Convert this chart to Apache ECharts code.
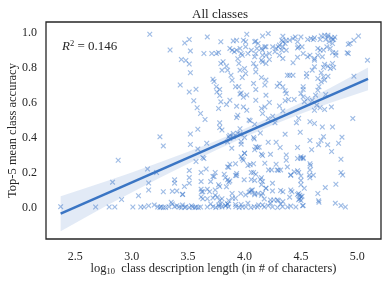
<!DOCTYPE html>
<html><head><meta charset="utf-8">
<script src="https://cdn.jsdelivr.net/npm/echarts@6/dist/echarts.min.js"></script>
<style>html,body{margin:0;padding:0;background:#fff}#c{width:391px;height:284px}</style>
</head><body><div id="c"></div>
<script>
// ---- tick labels ----
const xTickLabels = ['2.5','3.0','3.5','4.0','4.5','5.0'];
const yTickLabels = ['0.0','0.2','0.4','0.6','0.8','1.0'];

// ---- scatter samples [log10 description length, top-5 accuracy] ----
const zeroRow = [
[2.37,0.005],[2.68,0.003],[2.80,0.003],[2.85,0.003],[3.01,0.003],[3.08,0.003],[3.11,0.003],[3.15,0.01],[3.20,0.015],[3.23,0.003],
[3.25,0.0],[3.26,0.005],[3.28,0.0],[3.33,0.005],[3.35,0.03],[3.36,0.02],[3.38,0.005],[3.40,0.01],[3.42,0.003],[3.45,0.015],
[3.47,0.0],[3.48,0.005],[3.51,0.0],[3.53,0.01],[3.54,0.003],[3.56,0.0],[3.57,0.003],[3.59,0.0],[3.67,0.003],[3.72,0.005],
[3.745,0.0],[3.775,0.005],[3.80,0.003],[3.834,0.01],[3.86,0.003],[3.923,0.005],[3.953,0.0],[3.98,0.003],[4.012,0.003],[4.056,0.0],
[4.086,0.005],[4.115,0.003],[4.175,0.003],[4.21,0.01],[4.248,0.003],[4.293,0.0],[4.337,0.005],[4.382,0.003],[4.41,0.008],[4.455,0.003],
[4.515,0.01],[4.894,0.003],[3.30,0.0],[3.44,0.0],[3.61,0.003],[3.77,0.015],[3.79,0.02],[3.83,0.01],[3.85,0.02],[3.92,0.017],
[3.97,0.017],[4.03,0.025],[4.124,0.015],[4.16,0.015],[4.23,0.025],[4.32,0.02],[4.805,0.025],[4.855,0.011],[4.52,0.011],[4.657,0.038]
];
const lowBand = [
[2.88,0.27],[2.83,0.145],[2.91,0.046],[3.06,0.067],[3.14,0.22],[3.22,0.20],[3.15,0.14],[3.15,0.10],[3.28,0.09],[3.38,0.158],
[3.38,0.139],[3.40,0.095],[3.467,0.12],[3.452,0.076],[3.51,0.139],[3.51,0.171],[3.51,0.211],[3.57,0.263],[3.615,0.20],[3.63,0.286],
[3.64,0.28],[3.66,0.22],[3.615,0.148],[3.615,0.105],[3.62,0.09],[3.63,0.09],[3.67,0.105],[3.69,0.09],[3.72,0.177],[3.70,0.148],
[3.72,0.055],[3.67,0.05],[3.63,0.05],[3.615,0.06],[3.70,0.02],[3.45,0.074],[3.36,0.093],
[3.74,0.20],[3.73,0.177],[3.82,0.19],[3.85,0.158],[3.86,0.145],[3.92,0.183],[3.93,0.183],[3.997,0.158],[4.06,0.20],
[4.08,0.20],[4.06,0.16],[4.09,0.155],[4.10,0.19],[4.14,0.16],[4.15,0.13],[4.19,0.11],[4.213,0.215],[4.24,0.215],[4.29,0.215],
[4.30,0.213],[4.28,0.247],[4.18,0.253],[4.08,0.25],[4.05,0.245],[4.03,0.24],[3.98,0.278],[3.99,0.27],[4.0,0.31],[4.16,0.297],
[4.23,0.304],[4.37,0.30],[4.37,0.27],[4.47,0.28],[4.50,0.282],[4.52,0.28],[4.58,0.25],[4.585,0.24],[4.58,0.215],[4.575,0.186],
[4.47,0.21],[4.48,0.20],[4.50,0.18],[4.50,0.155],[4.50,0.13],[4.41,0.186],[4.32,0.215],[4.32,0.097],[4.58,0.17],[3.86,0.23],
[3.87,0.247],[3.83,0.17],[3.77,0.13],[3.78,0.12],[3.74,0.10],[3.74,0.07],[3.76,0.06],[3.78,0.04],[3.80,0.05],[3.893,0.053],
[3.86,0.04],[3.85,0.02],[3.967,0.08],[4.01,0.072],[4.04,0.087],[4.07,0.10],[4.06,0.098],[4.09,0.073],[4.16,0.082],[4.175,0.049],
[4.19,0.11],[4.248,0.095],[4.248,0.139],[4.23,0.043],[4.26,0.043],[4.29,0.043],[4.34,0.034],[4.42,0.09],[4.40,0.059],[4.53,0.11],
[4.48,0.08],[4.49,0.07],[4.50,0.06],[4.47,0.075],[4.51,0.065],[4.48,0.045],[4.50,0.04],[4.49,0.05],[4.716,0.114],[4.81,0.133],
[4.855,0.20],[4.87,0.186],[4.855,0.276],[3.92,0.053],[4.16,0.148],[4.15,0.17],[3.89,0.08],[4.44,0.204],[4.41,0.10],[4.65,0.08],
[4.66,0.03],[4.61,0.185],[3.87,0.152],[3.84,0.118],[3.85,0.232],[3.92,0.25],[3.93,0.194],[3.97,0.29],[4.05,0.09],[4.09,0.08],
[4.12,0.08],[4.15,0.07],[4.30,0.04],[4.34,0.09],[4.38,0.232],[4.41,0.185],[4.50,0.29],[4.52,0.285]
];
const midBand = [
[3.25,0.404],[3.28,0.352],[3.52,0.42],[3.52,0.36],[3.586,0.447],[3.665,0.367],[3.586,0.335],[3.65,0.503],[3.61,0.537],[3.58,0.57],
[3.55,0.61],[3.57,0.676],[3.51,0.66],[3.43,0.70],[3.72,0.733],[3.73,0.72],[3.75,0.69],[3.78,0.675],[3.78,0.64],[3.755,0.66],
[3.77,0.566],[3.79,0.604],[3.84,0.589],[3.87,0.613],[3.88,0.756],[3.89,0.727],[3.92,0.69],[3.95,0.69],[3.96,0.648],[3.97,0.655],
[3.99,0.63],[4.02,0.643],[3.98,0.743],[4.01,0.766],[3.94,0.527],[3.93,0.514],[3.90,0.423],[3.93,0.579],[3.99,0.575],[4.02,0.556],
[3.96,0.45],[3.90,0.404],[3.87,0.394],[3.85,0.375],[3.87,0.413],[3.78,0.484],[3.78,0.457],[4.04,0.50],[4.05,0.496],[4.09,0.476],
[4.10,0.613],[4.15,0.566],[4.18,0.575],[4.16,0.537],[4.22,0.60],[4.19,0.642],[4.18,0.70],[4.10,0.674],[4.08,0.709],[4.15,0.743],
[4.19,0.728],[4.21,0.508],[4.25,0.522],[4.27,0.484],[4.31,0.58],[4.34,0.552],[4.36,0.61],[4.39,0.617],[4.29,0.693],[4.31,0.709],
[4.34,0.69],[4.36,0.667],[4.37,0.651],[4.38,0.756],[4.40,0.756],[4.43,0.756],[4.44,0.617],[4.50,0.651],[4.52,0.674],[4.52,0.632],
[4.53,0.604],[4.52,0.69],[4.56,0.623],[4.60,0.613],[4.64,0.585],[4.62,0.556],[4.58,0.49],[4.62,0.48],[4.69,0.46],[4.78,0.46],
[4.67,0.57],[4.71,0.56],[4.77,0.575],[4.72,0.646],[4.63,0.642],[4.65,0.67],[4.66,0.69],[4.71,0.728],[4.68,0.718],[4.74,0.75],
[4.70,0.747],[4.65,0.737],[4.96,0.509],[4.97,0.75],[3.80,0.443],[3.94,0.425],[3.86,0.405],[3.97,0.377],[3.97,0.362],[3.887,0.339],
[4.14,0.426],[4.086,0.392],[4.115,0.343],[4.09,0.33],[4.21,0.373],[4.28,0.373],[4.316,0.343],[4.36,0.419],[4.494,0.43],[4.47,0.343],
[4.58,0.383],[4.595,0.33],[4.657,0.358],[4.678,0.383],[4.70,0.405],[4.737,0.358],[4.772,0.32],[4.834,0.367],[4.864,0.402],[4.46,0.484],
[4.48,0.51],[4.08,0.40],[4.10,0.347],[4.13,0.345],[4.15,0.305],[4.00,0.31],[4.0,0.40],[3.96,0.42]
];
const topBand = [
[3.16,0.99],[3.51,0.96],[3.47,0.94],[3.52,0.895],[3.34,0.90],[3.44,0.846],[3.48,0.84],[3.51,0.82],[3.52,0.77],[3.67,0.975],
[3.79,0.947],[3.64,0.88],[3.71,0.88],[3.75,0.88],[3.77,0.886],[3.79,0.823],[3.80,0.785],[3.84,0.808],[3.85,0.785],[3.81,0.833],
[3.87,0.909],[3.90,0.952],[3.93,0.956],[3.93,0.899],[3.96,0.909],[3.97,0.88],[3.98,0.87],[3.89,0.899],[3.91,0.89],[3.94,0.85],
[3.95,0.823],[3.96,0.785],[4.0,0.794],[4.02,0.99],[4.01,0.947],[4.01,0.918],[3.99,0.956],[4.03,0.88],[4.06,0.899],[4.09,0.947],
[4.10,0.95],[4.12,0.937],[4.11,0.909],[4.10,0.88],[4.09,0.861],[4.08,0.823],[4.10,0.804],[4.10,0.775],[4.15,0.909],[4.16,0.899],
[4.16,0.87],[4.18,0.918],[4.19,0.918],[4.21,0.994],[4.16,0.98],[4.19,0.87],[4.22,0.88],[4.15,0.842],[4.16,0.832],[4.19,0.823],
[4.22,0.846],[4.25,0.918],[4.28,0.909],[4.27,0.89],[4.30,0.918],[4.31,0.928],[4.31,0.87],[4.34,0.979],[4.33,0.956],[4.34,0.947],
[4.37,0.956],[4.36,0.937],[4.34,0.918],[4.33,0.899],[4.37,0.899],[4.34,0.851],[4.40,0.956],[4.43,0.966],[4.45,0.975],[4.47,0.947],
[4.50,0.975],[4.48,0.918],[4.51,0.918],[4.56,0.96],[4.59,0.966],[4.61,0.96],[4.62,0.97],[4.67,0.96],[4.68,0.98],[4.71,0.985],
[4.72,0.96],[4.74,0.975],[4.75,0.947],[4.77,0.97],[4.78,0.96],[4.79,0.96],[4.78,0.937],[4.65,0.909],[4.67,0.899],[4.70,0.90],
[4.73,0.918],[4.76,0.909],[4.56,0.861],[4.62,0.842],[4.81,0.87],[4.78,0.885],[4.92,0.933],[4.97,0.956],[5.01,0.98],[4.92,0.88],
[4.78,0.823],[5.09,0.842],[4.76,0.794],[4.68,0.77],[4.70,0.80],[4.71,0.818],[4.74,0.808],[4.62,0.804],[4.60,0.785],[4.62,0.851],
[4.65,0.87],[4.69,0.861],[4.52,0.88],[4.58,0.87],[4.55,0.766],[4.55,0.747],[4.43,0.827],[4.47,0.858],[4.47,0.912],[4.81,0.884],
[4.935,0.937],[4.91,0.884],[4.79,0.80],[4.74,0.985],[4.80,0.973]
];

// ---- regression fit and confidence band ----
const regLine = [[2.37,-0.035],[5.095,0.735]];
const bandX     = [2.37, 2.6, 2.8, 3.0, 3.25, 3.5, 3.75, 4.0, 4.25, 4.5, 4.75, 5.095];
const bandLower = [-0.135,-0.053,0.018,0.086,0.170,0.250,0.328,0.402,0.471,0.536,0.596,0.670];
const bandUpper = [0.065,0.113,0.156,0.200,0.258,0.318,0.382,0.450,0.521,0.598,0.680,0.800];
const r2Text = '0.146';

const points = zeroRow.concat(lowBand, midBand, topBand);
const FONT = "'Liberation Serif', 'DejaVu Serif', serif";
const INK = '#262626';
const BLUE = '#3a75c4';
const X_MARK = 'path://M0,1.5L1.5,0L5,3.5L8.5,0L10,1.5L6.5,5L10,8.5L8.5,10L5,6.5L1.5,10L0,8.5L3.5,5Z';

function tickFmt(labels, step){
  return function(v){
    if (Math.abs(v) < 1e-9) v = 0;
    const k = v / step;
    if (Math.abs(k - Math.round(k)) > 1e-6) return '';
    const s = v.toFixed(1);
    return labels.indexOf(s) >= 0 ? s : '';
  };
}

const chart = echarts.init(document.getElementById('c'), null, {renderer:'canvas'});
chart.setOption({
  animation:false,
  backgroundColor:'#fff',
  title:{text:'All classes', left:215, top:3, textAlign:'center',
    textStyle:{fontFamily:FONT, fontSize:13, fontWeight:'normal', color:INK}},
  grid:{left:46, right:10, top:22, bottom:45, show:true, borderColor:INK, borderWidth:1.3,
    backgroundColor:'#fff', containLabel:false, outerBoundsMode:'none'},
  xAxis:{type:'value', min:2.24, max:5.21, interval:0.02,
    axisLine:{show:false}, axisTick:{show:false}, splitLine:{show:false},
    axisLabel:{formatter:tickFmt(xTickLabels,0.5), fontFamily:FONT, fontSize:12, color:INK, margin:12, interval:0},
    name:'{a|log}{b|10}{a|  class description length (in # of characters)}',
    nameLocation:'middle', nameGap:22, nameMoveOverlap:false,
    nameTextStyle:{fontFamily:FONT, fontSize:12.5, color:INK,
      rich:{a:{fontFamily:FONT,fontSize:12.5,color:INK}, b:{fontFamily:FONT,fontSize:8.5,color:INK,padding:[6,0,0,0]}}}
  },
  yAxis:{type:'value', min:-0.18, max:1.06, interval:0.02,
    axisLine:{show:false}, axisTick:{show:false}, splitLine:{show:false},
    axisLabel:{formatter:tickFmt(yTickLabels,0.2), fontFamily:FONT, fontSize:12, color:INK, margin:9, interval:0},
    name:'Top-5 mean class accuracy', nameLocation:'middle', nameGap:27, nameMoveOverlap:false,
    nameTextStyle:{fontFamily:FONT, fontSize:12.5, color:INK}
  },
  graphic:[{type:'text', left:62, top:39, z:10,
    style:{text:'{r|R}{s|2}{t| = '+r2Text+'}', rich:{
      r:{fontFamily:FONT,fontSize:13,fontStyle:'italic',fill:INK,color:INK},
      s:{fontFamily:FONT,fontSize:8.5,fill:INK,color:INK,padding:[0,0,6,0]},
      t:{fontFamily:FONT,fontSize:13,fill:INK,color:INK}}}}],
  series:[
    {type:'scatter', data:points, symbol:X_MARK, symbolSize:5.5,
      itemStyle:{color:'rgba(55,115,200,0.6)'}, z:2, silent:true},
    {type:'custom', data:bandX.map((x,i)=>[x,bandLower[i],bandUpper[i]]),
      encode:{x:0,y:[1,2]}, z:3, silent:true, clip:true,
      renderItem:function(params, api){
        if (params.dataIndex !== 0) return null;
        const up = bandX.map((x,i)=>api.coord([x,bandUpper[i]]));
        const lo = bandX.map((x,i)=>api.coord([x,bandLower[i]])).reverse();
        return {type:'polygon', shape:{points:up.concat(lo)}, style:{fill:'rgba(58,117,196,0.15)'}};
      }},
    {type:'line', data:regLine, showSymbol:false, symbol:'none', z:4, silent:true,
      lineStyle:{color:BLUE, width:2.6}}
  ]
});
</script></body></html>
